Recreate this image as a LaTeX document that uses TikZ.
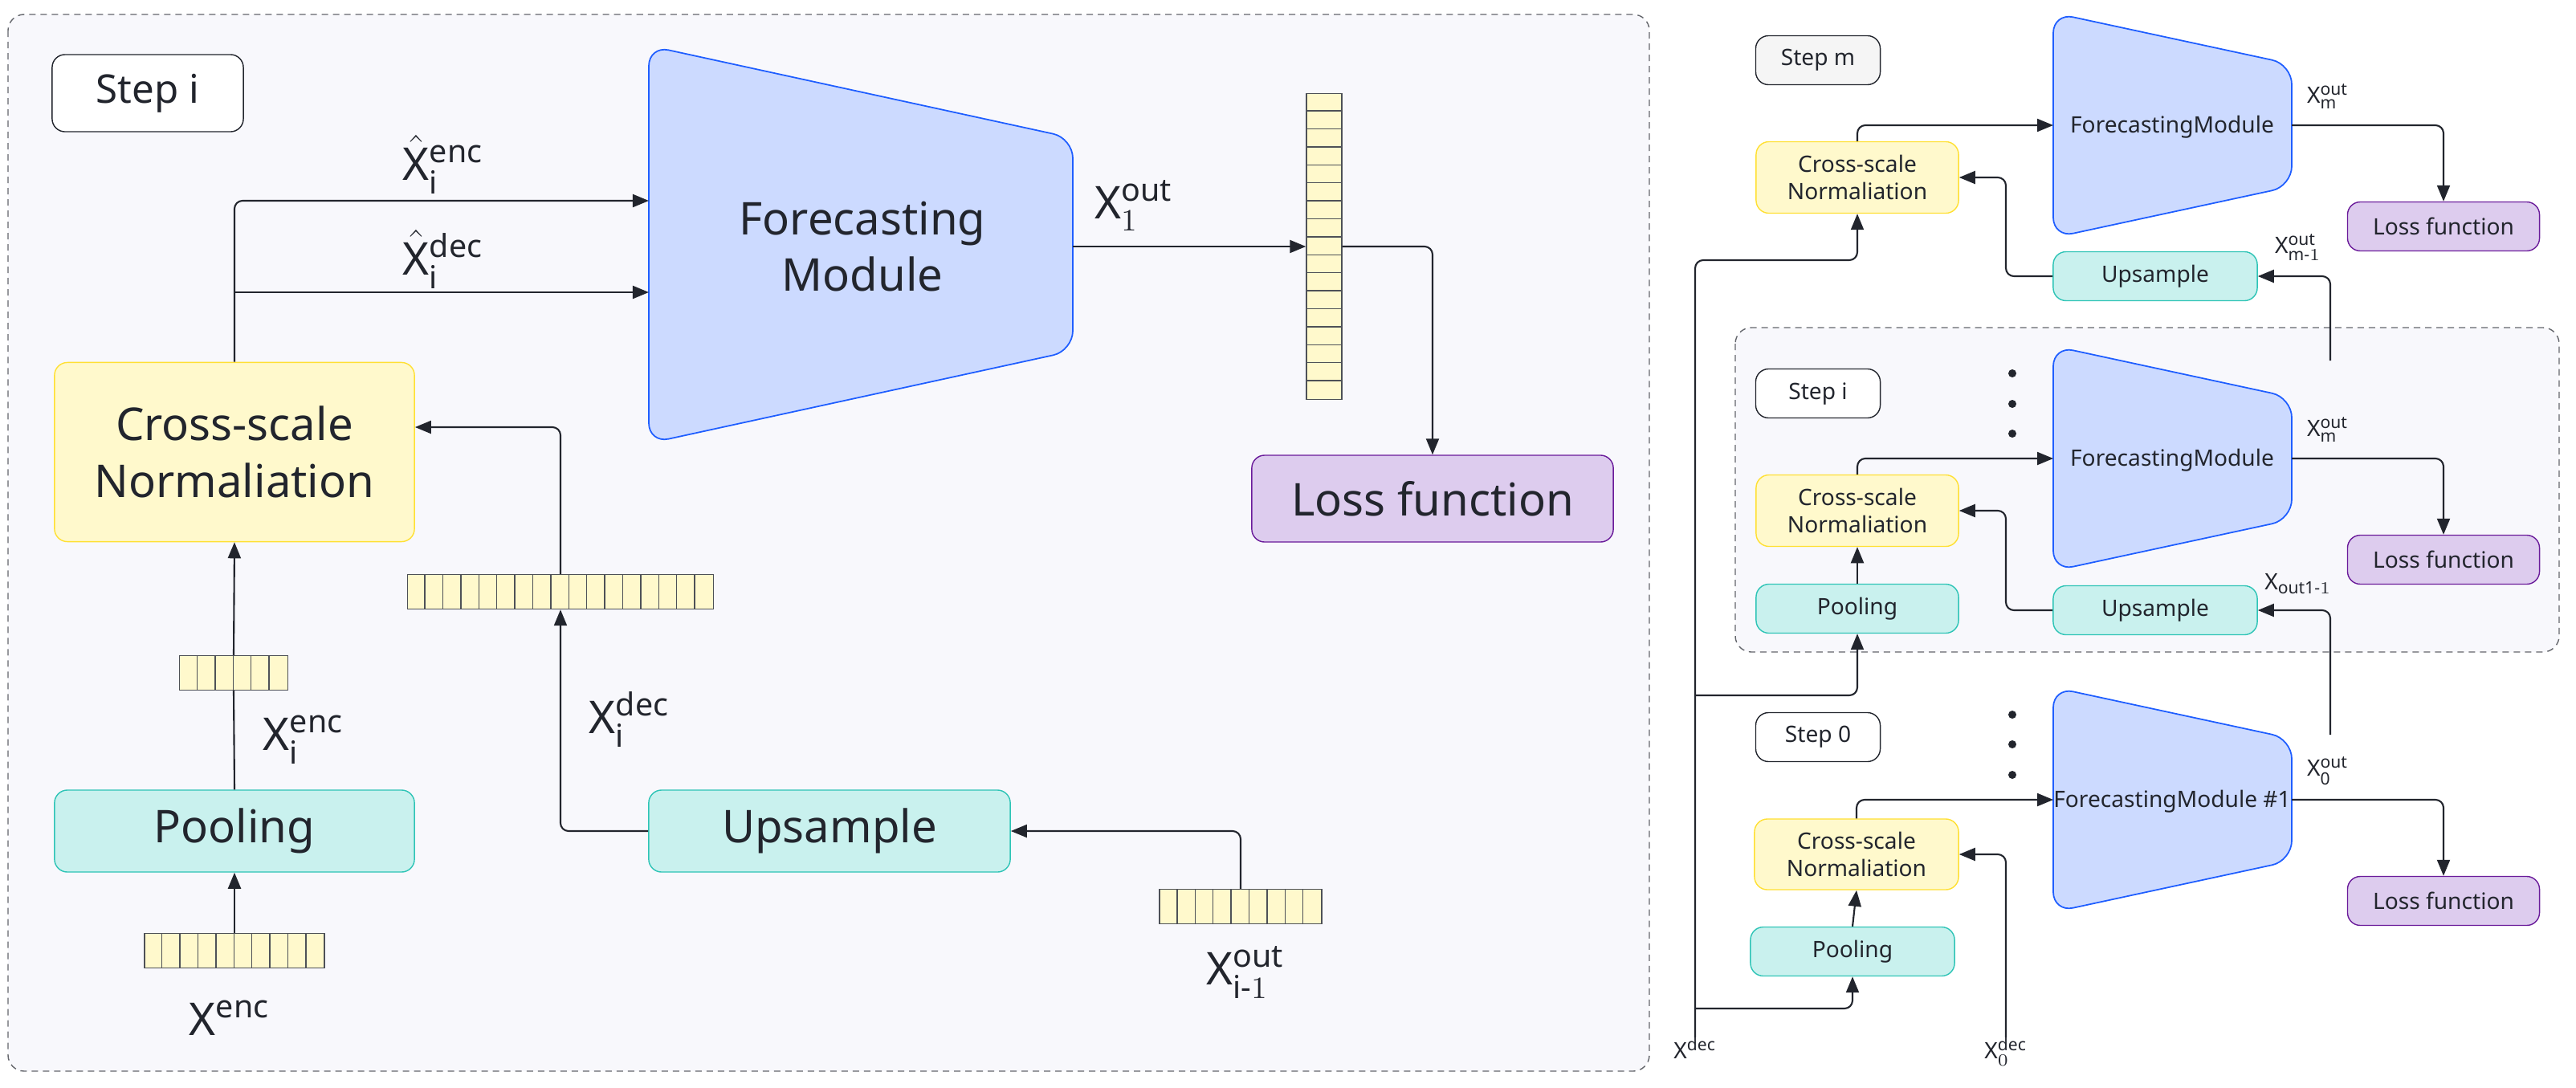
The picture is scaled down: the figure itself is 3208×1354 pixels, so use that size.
\documentclass[tikz,border=0pt]{standalone}
\usepackage{amsmath}
\usepackage{fontspec}
\setmainfont{Noto Sans}
\usetikzlibrary{arrows.meta, calc}

\definecolor{PanelFill}{HTML}{F8F8FC}
\definecolor{ModuleFill}{HTML}{CCDAFF}
\definecolor{ModuleLine}{HTML}{1F5EFF}
\definecolor{NormFill}{HTML}{FFF9CC}
\definecolor{NormLine}{HTML}{FFE033}
\definecolor{SampleFill}{HTML}{C9F1EE}
\definecolor{SampleLine}{HTML}{2EC4B6}
\definecolor{LossFill}{HTML}{DDCCEE}
\definecolor{LossLine}{HTML}{6A1B9A}
\definecolor{Wire}{HTML}{22252D}

\tikzset{
    box/.style = {draw, rounded corners=0.16cm, inner sep=0pt, line width=0.4pt, align=center, text=Wire},
    norm/.style = {box, fill=NormFill, draw=NormLine},
    sample/.style = {box, fill=SampleFill, draw=SampleLine},
    loss/.style = {box, fill=LossFill, draw=LossLine},
    stepbox/.style = {box, fill=white, draw=Wire},
    big/.style = {font=\fontsize{16}{20}\selectfont},
    small/.style = {font=\fontsize{8}{9.6}\selectfont},
    vec/.style = {draw=Wire!80, fill=NormFill, inner sep=0pt, line width=0.4pt},
    wire/.style = {draw=Wire, line width=0.6pt, rounded corners=0.1cm, -{Triangle[length=0.2cm, width=0.16cm]}},
    plain/.style = {draw=Wire, line width=0.6pt, rounded corners=0.1cm},
    lbl/.style = {inner sep=0pt, text=Wire},
}

% row of cells: name, x, y, number of cells
\newcommand\hvec[4]{
    \node [vec, minimum width={#4*0.224cm}, minimum height=0.43cm] (#1) at (#2,#3) {};
    \foreach \k in {2,...,#4} \draw [Wire!80, line width=0.4pt] ($(#1.south west)+({(\k-1)*22.4},0)$) -- ++(0,-43);
}
% trapezoid: left x, top y, right x, bottom y, inset
\newcommand\trap[5]{
    \draw [fill=ModuleFill, draw=ModuleLine, line width=0.5pt, rounded corners=0.25cm]
    (#1,#2) -- (#3,#2+#5) -- (#3,#4-#5) -- (#1,#4) -- cycle;
}

\begin{document}
\begin{tikzpicture}[x=0.01cm, y=-0.01cm]

    \useasboundingbox (0,0) rectangle (3208,1354);

    % left panel
    \draw [fill=PanelFill, draw=Wire!70, dash pattern=on 0.08cm off 0.06cm, rounded corners=0.2cm, line width=0.4pt]
    (10,18) rectangle (2054,1334);

    \node [stepbox, font=\fontsize{14}{17}\selectfont, minimum width=2.38cm, minimum height=0.96cm] (stepL) at (184,116) {Step i};

    \trap{808}{57}{1336}{552}{115}
    \node [lbl, big, align=center] (fmL) at (1074,307) {Forecasting\\Module};
    \coordinate (fmLa) at (808,250);
    \coordinate (fmLb) at (808,364);
    \coordinate (fmLout) at (1336,307);

    \node [norm, big, minimum width=4.48cm, minimum height=2.23cm] (csnL) at (292,563) {Cross-scale\\Normaliation};
    \node [sample, big, minimum width=4.48cm, minimum height=1.02cm] (poolL) at (292,1035) {Pooling};
    \node [sample, big, minimum width=4.5cm, minimum height=1.02cm] (upL) at (1033,1035) {Upsample};
    \node [loss, big, minimum width=4.5cm, minimum height=1.08cm] (lossL) at (1784,621) {Loss function};

    \hvec{venc}{292}{1184}{10}
    \hvec{vpool}{291}{838}{6}
    \hvec{vdec}{698}{737}{17}
    \hvec{vprev}{1545}{1129}{9}

    % vertical output vector
    \node [vec, minimum width=0.44cm, minimum height={17*0.224cm}] (vout) at (1649,307) {};
    \foreach \k in {2,...,17} \draw [Wire!80, line width=0.4pt] ($(vout.north west)+(0,{(\k-1)*22.4})$) -- ++(44,0);

    \draw [wire] (venc.north) -- (poolL.south);
    \draw [plain] (poolL.north) -- (vpool.south);
    \draw [wire] (vpool.north) -- (csnL.south);
    \draw [wire] (upL.west) -| (vdec.south);
    \draw [wire] (vdec.north) |- (csnL.east |- 0,532);
    \draw [wire] (vprev.north) |- (upL.east);
    \draw [wire] (csnL.north) |- (fmLa);
    \draw [wire] (csnL.north |- fmLb) -- (fmLb);
    \draw [wire] (fmLout) -- (vout.west);
    \draw [wire] (vout.east) -| (lossL.north);

    \node [lbl, font=\fontsize{16}{19}\selectfont] (lenc) at (286,1268) {$\mathrm{X}^{\mathrm{enc}}$};
    \node [lbl, font=\fontsize{16}{19}\selectfont] (lienc) at (378,921) {$\mathrm{X}^{\mathrm{enc}}_{\mathrm{i}}$};
    \node [lbl, font=\fontsize{16}{19}\selectfont] (lidec) at (784,896) {$\mathrm{X}^{\mathrm{dec}}_{\mathrm{i}}$};
    \node [lbl, font=\fontsize{16}{19}\selectfont] (lprev) at (1551,1211) {$\mathrm{X}^{\mathrm{out}}_{\mathrm{i}\text{-}1}$};
    \node [lbl, font=\fontsize{16}{19}\selectfont] (lhenc) at (552,205) {$\hat{\mathrm{X}}^{\mathrm{enc}}_{\mathrm{i}}$};
    \node [lbl, font=\fontsize{16}{19}\selectfont] (lhdec) at (552,323) {$\hat{\mathrm{X}}^{\mathrm{dec}}_{\mathrm{i}}$};
    \node [lbl, font=\fontsize{16}{19}\selectfont] (lout) at (1412,256) {$\mathrm{X}^{\mathrm{out}}_{1}$};

    % right panel
    \draw [fill=PanelFill, draw=Wire!70, dash pattern=on 0.08cm off 0.06cm, rounded corners=0.2cm, line width=0.4pt]
    (2161,408) rectangle (3187,812);

    \foreach \off/\name/\txt/\subtxt in {0/m/Module/m, 415/i/Module/m, 840/z/Module \#1/0} {
        \trap{2557}{16+\off}{2854}{296+\off}{64}
        \node [lbl, small] (fm\name) at (2705,158+\off) {Forecasting\\\txt};
        \node [loss, small, minimum width=2.39cm, minimum height=0.61cm] (loss\name) at (3043,282+\off) {Loss function};
        \node [lbl, font=\fontsize{8}{10}\selectfont] (lo\name) at (2899,120+\off) {$\mathrm{X}^{\mathrm{out}}_{\mathrm{\subtxt}}$};
        \coordinate (fmin\name) at (2557,156+\off);
        \coordinate (fmout\name) at (2854,156+\off);
        \draw [wire] (fmout\name) -| (loss\name.north);
    }
    \foreach \y/\name in {465/a, 503/b, 540/c, 890/d, 927/e, 965/f}
        \fill [Wire] (2506,\y) circle (0.05cm) coordinate (dot\name);

    \node [stepbox, small, fill=black!4, minimum width=1.55cm, minimum height=0.61cm] (stepm) at (2264,75) {Step m};
    \node [stepbox, small, minimum width=1.55cm, minimum height=0.61cm] (stepi) at (2264,490) {Step i};
    \node [stepbox, small, minimum width=1.55cm, minimum height=0.61cm] (stepz) at (2264,918) {Step 0};

    \node [norm, small, minimum width=2.52cm, minimum height=0.89cm] (csnm) at (2313,221) {Cross-scale\\Normaliation};
    \node [norm, small, minimum width=2.52cm, minimum height=0.89cm] (csni) at (2313,636) {Cross-scale\\Normaliation};
    \node [norm, small, minimum width=2.54cm, minimum height=0.88cm] (csnz) at (2312,1064) {Cross-scale\\Normaliation};
    \node [sample, small, minimum width=2.52cm, minimum height=0.61cm] (pooli) at (2313,758) {Pooling};
    \node [sample, small, minimum width=2.54cm, minimum height=0.61cm] (poolz) at (2307,1185) {Pooling};
    \node [sample, small, minimum width=2.54cm, minimum height=0.61cm] (upm) at (2684,344) {Upsample};
    \node [sample, small, minimum width=2.54cm, minimum height=0.61cm] (upi) at (2684,760) {Upsample};

    \node [lbl, font=\fontsize{8}{10}\selectfont] (lupm) at (2862,308) {$\mathrm{X}^{\mathrm{out}}_{\mathrm{m}\text{-}1}$};
    \node [lbl, font=\fontsize{8}{10}\selectfont] (lupi) at (2862,727) {$\mathrm{X}_{\mathrm{out1}\text{-}1}$};
    \node [lbl, font=\fontsize{8}{10}\selectfont, anchor=north] (lxdec) at (2111,1292) {$\mathrm{X}^{\mathrm{dec}}$};
    \node [lbl, font=\fontsize{8}{10}\selectfont, anchor=north] (lxzdec) at (2498,1292) {$\mathrm{X}^{\mathrm{dec}}_{0}$};

    \coordinate (tapm) at (2111,324);
    \coordinate (tapi) at (2111,866);
    \coordinate (tapz) at (2111,1256);
    \coordinate (fromi) at (2902,449);
    \coordinate (fromz) at (2902,915);

    \draw [wire] (csnm.north) |- (fminm);
    \draw [wire] (csni.north) |- (fmini);
    \draw [wire] (csnz.north) |- (fminz);
    \draw [wire] (upm.west) -| (2498,221) -- (csnm.east);
    \draw [wire] (upi.west) -| (2498,636) -- (csni.east);
    \draw [wire] (fromi) |- (upm.east);
    \draw [wire] (fromz) |- (upi.east);
    \draw [wire] (pooli.north) -- (csni.south);
    \draw [wire] (poolz.north) -- (csnz.south);
    \draw [wire] (lxdec.north) -- (tapm) -| (csnm.south);
    \draw [wire] (tapi) -| (pooli.south);
    \draw [wire] (tapz) -| (poolz.south);
    \draw [wire] (lxzdec.north) |- (csnz.east);

\end{tikzpicture}
\end{document}
